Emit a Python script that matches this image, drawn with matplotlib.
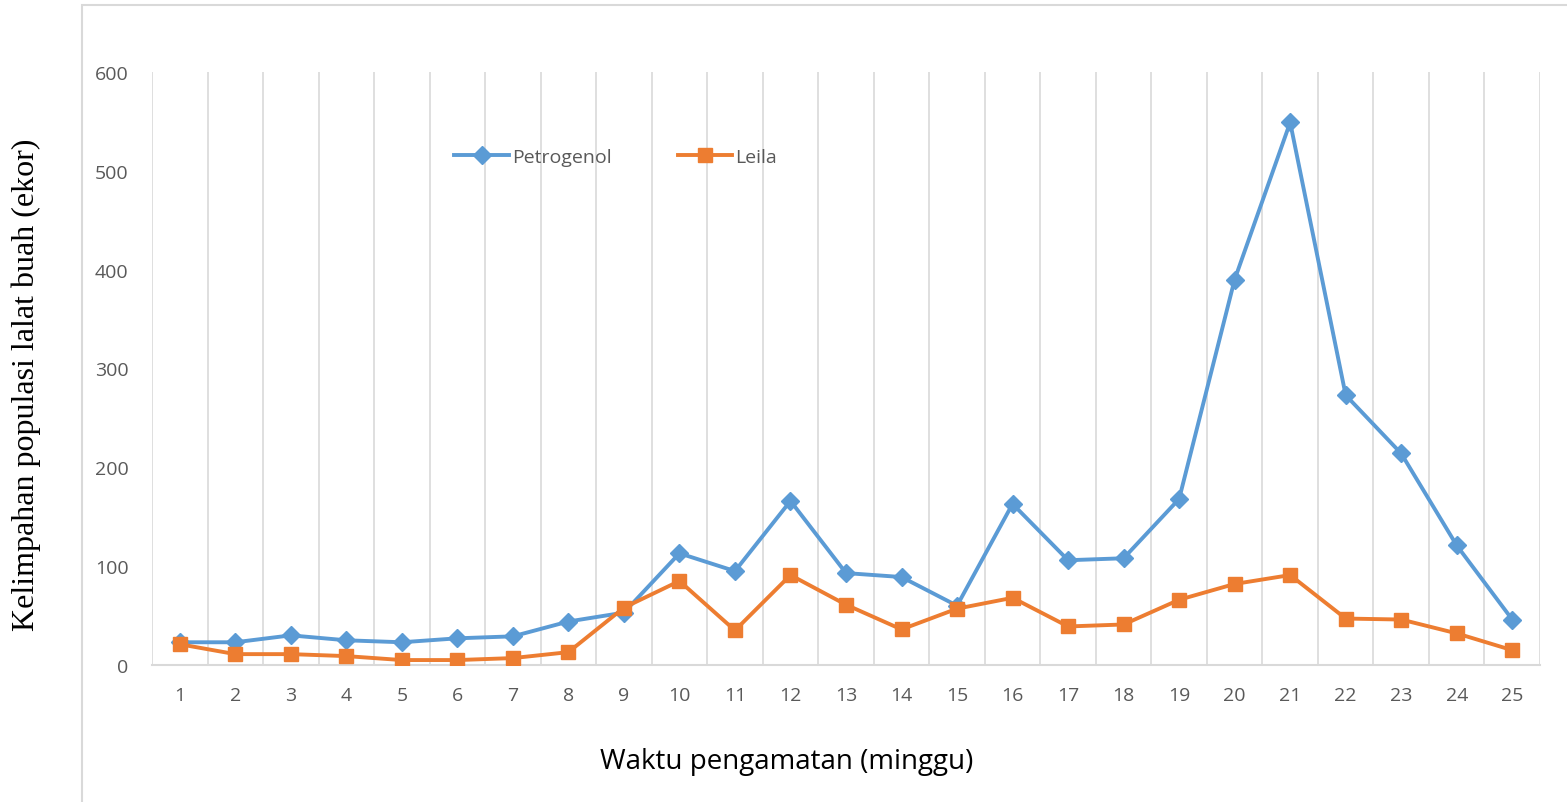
import matplotlib.pyplot as plt
from matplotlib.patches import Rectangle

# Weekly counts
minggu = list(range(1, 26))
petrogenol = [23, 23, 30, 25, 23, 27, 29, 44, 53, 113, 95, 166, 93, 89, 60,
              163, 106, 108, 168, 390, 549, 273, 214, 121, 46]
leila = [21, 11, 11, 9, 5, 5, 7, 13, 58, 85, 35, 91, 61, 36, 57,
         68, 39, 41, 66, 82, 91, 47, 46, 32, 15]
y_ticks = [0, 100, 200, 300, 400, 500, 600]

BLUE = '#5B9BD5'
ORANGE = '#ED7D31'
GRID = '#D9D9D9'
TICK = '#595959'

fig = plt.figure(figsize=(15.67, 8.03), dpi=100)
ax = fig.add_axes([152 / 1567, 137 / 803, 1388 / 1567, 593 / 803])

# outer chart border
fig.patches.append(Rectangle((82 / 1567, -0.05), 1.0, (797 / 803) + 0.05,
                             transform=fig.transFigure, fill=False,
                             edgecolor=GRID, linewidth=1.5))

ax.plot(minggu, petrogenol, color=BLUE, linewidth=2.8, marker='D',
        markersize=9, label='Petrogenol', zorder=3)
ax.plot(minggu, leila, color=ORANGE, linewidth=2.8, marker='s',
        markersize=10, label='Leila', zorder=3)

ax.set_xlim(0.5, 25.5)
ax.set_ylim(0, 600)
ax.set_xticks(minggu)
ax.set_yticks(y_ticks)

# vertical gridlines between categories
for b in range(len(minggu) + 1):
    ax.axvline(b + 0.5, color=GRID, linewidth=1.2, zorder=1)

for side in ['top', 'right', 'left']:
    ax.spines[side].set_visible(False)
ax.spines['bottom'].set_color(GRID)
ax.spines['bottom'].set_linewidth(1.5)

ax.tick_params(axis='both', length=0, colors=TICK, labelsize=14)
ax.tick_params(axis='x', pad=15)
ax.tick_params(axis='y', pad=17)
for lbl in ax.get_xticklabels() + ax.get_yticklabels():
    lbl.set_fontfamily('Open Sans')

fig.text(787 / 1567, 1 - 762 / 803, 'Waktu pengamatan (minggu)',
         ha='center', va='center', fontsize=20, family='Open Sans',
         color='black')
fig.text(26 / 1567, 1 - 385 / 803, 'Kelimpahan populasi lalat buah (ekor)',
         rotation=90, ha='center', va='center', fontsize=23,
         family='Liberation Serif', color='black')

leg = ax.legend(ncol=2, loc='center', bbox_to_anchor=(0.334, 0.857),
                frameon=False, handlelength=2.8, handletextpad=0.15,
                columnspacing=3.4, prop={'family': 'Open Sans', 'size': 14})
for t in leg.get_texts():
    t.set_color(TICK)

fig.savefig('out.png', dpi=100)
